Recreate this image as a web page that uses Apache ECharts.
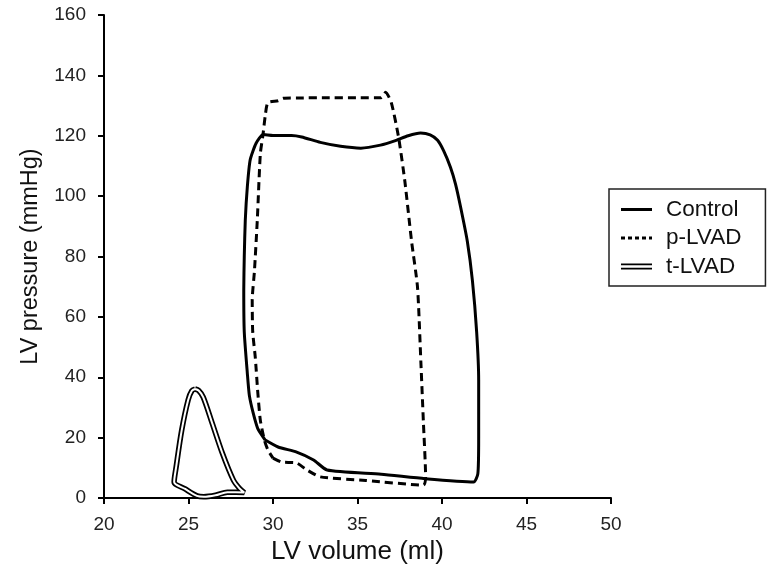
<!DOCTYPE html>
<html>
<head>
<meta charset="utf-8">
<script src="https://cdn.jsdelivr.net/npm/echarts@6/dist/echarts.min.js"></script>
<style>html,body{margin:0;padding:0;background:#fff}#c{width:772px;height:573px}</style>
</head>
<body>
<div id="c"></div>
<script>
// LV volume (ml), LV pressure (mmHg) pairs
const controlLoop = [
  [29.54,19.2],[30.3,16.9],[31.4,15.2],[32.4,12.6],[33.2,9.3],[36.4,7.9],[39.0,6.4],[41.87,5.3],
  [42.12,8],[42.17,20],[42.17,39],[42.05,55],[41.8,72],[41.5,85],[41.1,96.4],[40.8,104],[40.5,109.6],
  [40.1,115],[39.74,118.5],[39.3,120.3],[38.73,120.9],[38.0,120.0],[37.2,118.3],[36.36,116.9],
  [35.2,115.9],[34.0,116.5],[32.8,117.8],[31.7,119.6],[31.1,120.1],[30.0,120.1],[29.42,120.4],
  [29.0,117.5],[28.65,112],[28.48,103],[28.36,92],[28.3,80],[28.27,68.9],[28.3,55],[28.48,41.4],
  [28.6,34],[28.83,28.1],[29.1,23],[29.54,19.2]
];
const pLvadLoop = [
  [30.0,13.2],[30.5,11.9],[31.4,11.6],[32.0,9.3],[32.8,7.0],[35.5,5.8],[38.9,4.3],[39.03,7],
  [38.9,25],[38.75,45],[38.55,69.9],[38.2,85],[37.8,105],[37.43,119.5],[37.0,131],[36.66,134.4],
  [36.4,132.6],[35.0,132.6],[33.0,132.6],[31.5,132.5],[30.6,132.4],[30.3,131.6],[29.7,131],
  [29.55,127],[29.4,120],[29.25,114],[29.07,92],[28.9,75],[28.77,65.6],[28.8,55],[28.95,46.7],
  [29.1,35],[29.25,25.8],[29.5,19],[29.7,15.9],[30.0,13.2]
];
const tLvadLoop = [
  [25.39,36.1],[25.6,35.6],[25.87,33.4],[26.4,24.8],[27.0,14.9],[27.65,6],[28.0,3.3],[28.3,1.8],
  [27.8,1.9],[27.3,1.9],[26.6,0.9],[25.9,0.4],[25.5,0.7],[24.8,3],[24.15,5.3],[24.27,10.3],
  [24.6,22.5],[24.98,32.5],[25.2,35.5],[25.39,36.1]
];
const seriesNames = ['Control','p-LVAD','t-LVAD'];
const xTicks = {min:20, max:50, interval:5};
const yTicks = {min:0, max:160, interval:20};

const FONT = 'Liberation Sans, Arial, sans-serif';
// legend icon shapes (bounding box 31 x 7, tiny corner marks keep the box)
const BOX = 'M0,0H0.01V0.01H0Z M30.99,6.99H31V7H30.99Z ';
const iconSolid = 'path://' + BOX + 'M0,2H31V5H0Z';
const iconDotted = 'path://' + BOX + 'M0,2H4V5H0Z M7,2H11V5H7Z M14,2H18V5H14Z M21,2H25V5H21Z M28,2H31V5H28Z';
const iconDouble = 'path://' + BOX + 'M0,0.5H31V2.2H0Z M0,4.8H31V6.5H0Z';

const chart = echarts.init(document.getElementById('c'), null, {renderer:'canvas'});
chart.setOption({
  animation:false,
  backgroundColor:'#fff',
  grid:{left:104,right:161,top:15,bottom:75},
  xAxis:{
    type:'value', min:xTicks.min, max:xTicks.max, interval:xTicks.interval,
    name:'LV volume (ml)', nameLocation:'middle', nameGap:41,
    nameTextStyle:{fontFamily:FONT,fontSize:26,color:'#111'},
    axisLine:{onZero:false,lineStyle:{color:'#000',width:2}},
    axisTick:{show:true,length:6,lineStyle:{color:'#000',width:2}},
    axisLabel:{fontFamily:FONT,fontSize:19,color:'#222',margin:17},
    splitLine:{show:false}
  },
  yAxis:{
    type:'value', min:yTicks.min, max:yTicks.max, interval:yTicks.interval,
    name:'LV pressure (mmHg)', nameLocation:'middle', nameGap:61, nameRotate:90,
    nameTextStyle:{fontFamily:FONT,fontSize:23.5,color:'#111'},
    axisLine:{onZero:false,lineStyle:{color:'#000',width:2}},
    axisTick:{show:true,length:6,lineStyle:{color:'#000',width:2}},
    axisLabel:{fontFamily:FONT,fontSize:19,color:'#222',margin:18},
    splitLine:{show:false}
  },
  legend:{
    orient:'vertical', left:609, top:189,
    padding:[9,24,8,12], itemGap:5.5, itemWidth:31, itemHeight:7,
    borderColor:'#222', borderWidth:1.5,
    textStyle:{fontFamily:FONT,fontSize:22.5,color:'#111',padding:[0,0,0,9]},
    itemStyle:{color:'#000'},
    data:[
      {name:seriesNames[0], icon:iconSolid},
      {name:seriesNames[1], icon:iconDotted},
      {name:seriesNames[2], icon:iconDouble}
    ]
  },
  series:[
    {name:seriesNames[2], type:'line', data:tLvadLoop, symbol:'none', smooth:0.3,
     lineStyle:{color:'#000',width:5.5}, itemStyle:{color:'#000'}, z:2},
    {name:'t-LVAD-inner', type:'line', data:tLvadLoop, symbol:'none', smooth:0.3,
     lineStyle:{color:'#fff',width:2}, itemStyle:{color:'#fff'}, z:3, silent:true},
    {name:seriesNames[1], type:'line', data:pLvadLoop, symbol:'none', smooth:0.2,
     lineStyle:{color:'#000',width:3,type:[8,5]}, itemStyle:{color:'#000'}, z:4},
    {name:seriesNames[0], type:'line', data:controlLoop, symbol:'none', smooth:0.2,
     lineStyle:{color:'#000',width:3}, itemStyle:{color:'#000'}, z:5}
  ]
});
</script>
</body>
</html>
